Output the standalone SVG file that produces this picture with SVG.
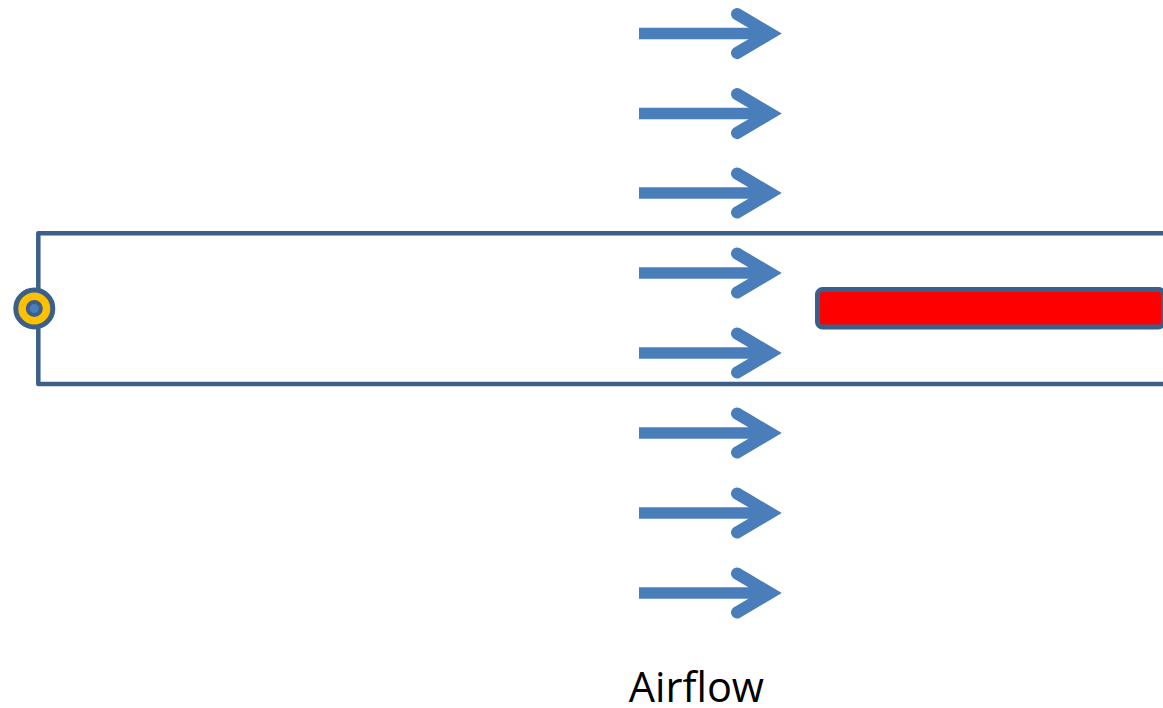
<svg xmlns="http://www.w3.org/2000/svg" width="1163" height="708" viewBox="0 0 1163 708">
  <style>
    .frame { fill: none; stroke: #3A5F8B; stroke-width: 4.5; stroke-linejoin: round; }
    .shaft { stroke: #4A7EBB; stroke-width: 11.5; stroke-linecap: butt; }
    .head { fill: none; stroke: #4A7EBB; stroke-width: 12; stroke-linecap: round; stroke-linejoin: miter; stroke-miterlimit: 10; }
    .label { font-family: "Open Sans", "Liberation Sans", sans-serif; font-size: 41.5px; fill: #000000; }
  </style>
  <defs>
    <g id="flow-arrow">
      <line class="shaft" x1="639" y1="0" x2="758" y2="0"/>
      <polyline class="head" points="737,-19.5 770,0 737,19.5"/>
    </g>
  </defs>

  <!-- channel outline, open on the right -->
  <g id="channel">
    <polyline class="frame" points="1170,233.3 38.3,233.3 38.3,384 1170,384"/>
  </g>

  <!-- heated strip inside the channel -->
  <g id="strip">
    <rect x="817.5" y="289.5" width="346" height="37.5" rx="5" ry="5" fill="#FF0000" stroke="#3A5F8B" stroke-width="5"/>
  </g>

  <!-- pivot / hinge marker -->
  <g id="pivot">
    <circle cx="34.3" cy="308.5" r="18.5" fill="#FFC000" stroke="#3A5F8B" stroke-width="5"/>
    <circle cx="34.3" cy="308.5" r="6.5" fill="#4A7EBB" stroke="#3A5F8B" stroke-width="4"/>
  </g>

  <!-- airflow arrows -->
  <g id="connectors">
    <use href="#flow-arrow" transform="translate(0,33.5)"/>
    <use href="#flow-arrow" transform="translate(0,113.5)"/>
    <use href="#flow-arrow" transform="translate(0,193)"/>
    <use href="#flow-arrow" transform="translate(0,273)"/>
    <use href="#flow-arrow" transform="translate(0,353)"/>
    <use href="#flow-arrow" transform="translate(0,433)"/>
    <use href="#flow-arrow" transform="translate(0,513)"/>
    <use href="#flow-arrow" transform="translate(0,593)"/>
  </g>

  <g id="caption">
    <text class="label" x="696.4" y="702.3" text-anchor="middle">Airflow</text>
  </g>
</svg>
